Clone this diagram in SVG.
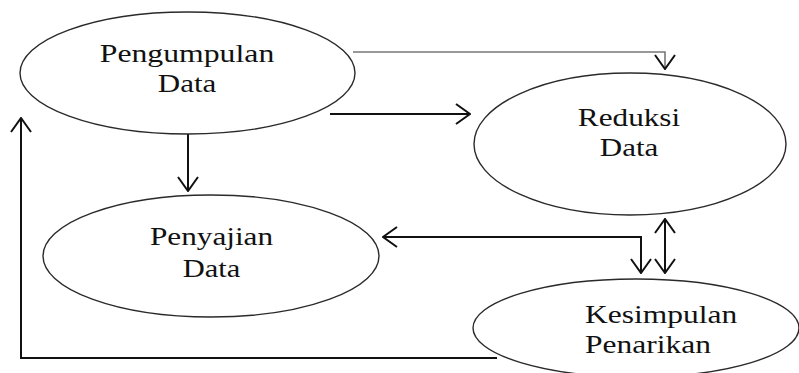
<svg xmlns="http://www.w3.org/2000/svg" width="799" height="373" viewBox="0 0 799 373">
<style>
.node ellipse{fill:#fff;stroke:#2a2a2a;stroke-width:1.4}
.node text{font-family:"Liberation Serif","Times New Roman",serif;font-size:25px;fill:#111}
.c{text-anchor:middle}
.conn{fill:none;stroke:#111;stroke-width:2}
.thin{stroke:#777;stroke-width:1.6}
</style>
<defs>
<marker id="ah" viewBox="0 0 16 22" refX="15" refY="11" markerWidth="16" markerHeight="22" markerUnits="userSpaceOnUse" orient="auto-start-reverse">
<path d="M1,1 L15,11 L1,21" fill="none" stroke="#111" stroke-width="2"/>
</marker>
</defs>
<rect width="799" height="373" fill="#fff"/>
<g id="connectors">
<polyline class="conn thin" points="353,52 665,52 665,69" marker-end="url(#ah)"/>
<line class="conn" x1="330" y1="114" x2="470" y2="114" marker-end="url(#ah)"/>
<line class="conn" x1="188" y1="134" x2="188" y2="191" marker-end="url(#ah)"/>
<polyline class="conn" points="383,237 641,237 641,273" marker-start="url(#ah)" marker-end="url(#ah)"/>
<line class="conn" x1="665" y1="219" x2="665" y2="273" marker-start="url(#ah)" marker-end="url(#ah)"/>
<polyline class="conn" points="497,358 21,358 21,118" marker-end="url(#ah)"/>
</g>
<g id="pengumpulan" class="node">
<ellipse cx="187.5" cy="73" rx="167.5" ry="61"/>
<text class="c" transform="translate(187 62) scale(1.27 1)">Pengumpulan</text>
<text class="c" transform="translate(187 92) scale(1.24 1)">Data</text>
</g>
<g id="reduksi" class="node">
<ellipse cx="630" cy="144" rx="156" ry="71"/>
<text class="c" transform="translate(629 126) scale(1.25 1)">Reduksi</text>
<text class="c" transform="translate(629 156) scale(1.24 1)">Data</text>
</g>
<g id="penyajian" class="node">
<ellipse cx="211" cy="256" rx="168" ry="61"/>
<text class="c" transform="translate(211.5 245) scale(1.25 1)">Penyajian</text>
<text class="c" transform="translate(211.5 277) scale(1.22 1)">Data</text>
</g>
<g id="kesimpulan" class="node">
<ellipse cx="636" cy="328" rx="163" ry="49"/>
<text transform="translate(585 323) scale(1.26 1)">Kesimpulan</text>
<text transform="translate(585 353) scale(1.26 1)">Penarikan</text>
</g>
</svg>
